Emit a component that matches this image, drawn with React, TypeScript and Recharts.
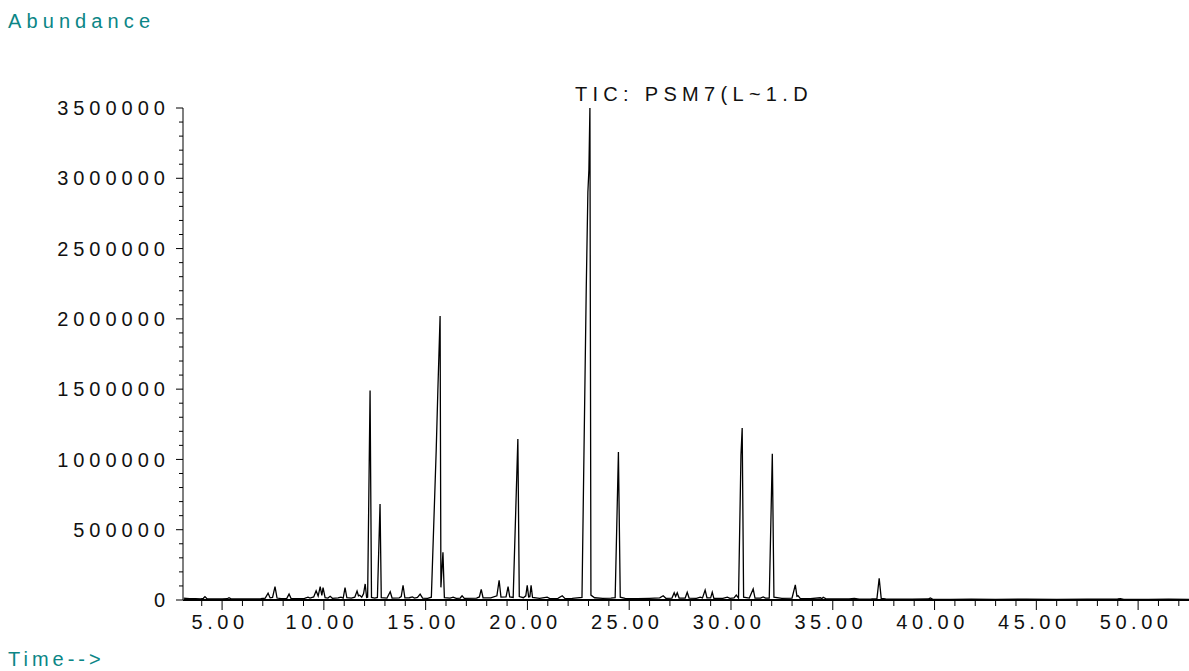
import { LineChart, Line, XAxis, YAxis } from 'recharts';

// retention time (min) and abundance
const RT = [
  3.10, 3.40, 3.70, 3.95, 4.08, 4.16, 4.26, 4.60, 5.00, 5.25, 5.34, 5.44, 5.90, 6.40, 6.90,
  7.12, 7.26, 7.36, 7.48, 7.60, 7.70, 7.90, 8.18, 8.29, 8.39, 8.70, 9.05, 9.22, 9.32, 9.50,
  9.62, 9.72, 9.82, 9.90, 9.96, 10.06, 10.20, 10.31, 10.42, 10.70, 10.84, 10.95, 11.04, 11.13,
  11.35, 11.52, 11.63, 11.70, 11.76, 11.86, 11.95, 12.03, 12.10, 12.15, 12.27, 12.34, 12.50,
  12.63, 12.76, 12.82, 13.10, 13.26, 13.35, 13.70, 13.80, 13.89, 13.98, 14.20, 14.35, 14.45,
  14.60, 14.73, 14.85, 15.10, 15.28, 15.52, 15.60, 15.71, 15.75, 15.85, 15.92, 16.20, 16.35,
  16.50, 16.70, 16.79, 16.90, 17.50, 17.64, 17.73, 17.82, 18.20, 18.50, 18.61, 18.70, 18.95,
  19.05, 19.13, 19.30, 19.53, 19.60, 19.80, 19.92, 19.99, 20.06, 20.12, 20.18, 20.25, 20.60,
  20.97, 21.10, 21.50, 21.71, 21.85, 22.20, 22.68, 22.89, 22.97, 23.02, 23.07, 23.12, 23.30,
  23.70, 24.10, 24.31, 24.47, 24.56, 24.80, 25.40, 26.00, 26.50, 26.67, 26.80, 27.10, 27.21,
  27.28, 27.36, 27.45, 27.75, 27.85, 27.94, 28.30, 28.49, 28.60, 28.73, 28.82, 29.00, 29.08,
  29.16, 29.60, 29.82, 29.95, 30.15, 30.26, 30.37, 30.49, 30.55, 30.62, 30.90, 31.09, 31.18,
  31.45, 31.58, 31.70, 31.88, 32.03, 32.11, 32.50, 33.00, 33.16, 33.24, 33.30, 33.40, 33.90,
  34.39, 34.46, 34.53, 34.65, 35.20, 35.80, 36.06, 36.30, 36.90, 37.17, 37.28, 37.38, 37.60,
  38.20, 38.90, 39.70, 39.79, 39.90, 40.80, 41.80, 43.00, 44.50, 46.00, 47.50, 49.00, 49.13,
  49.30, 50.50, 51.50, 52.50,
];

const ABUNDANCE = [
  14000, 9000, 10000, 8000, 12000, 24000, 9000, 8000, 7000, 9000, 16000, 8000, 7000, 8000, 9000,
  14000, 48000, 15000, 18000, 95000, 14000, 10000, 12000, 42000, 10000, 9000, 12000, 20000, 14000, 22000,
  66000, 28000, 95000, 32000, 88000, 16000, 14000, 26000, 12000, 15000, 20000, 13000, 88000, 16000,
  13000, 20000, 64000, 30000, 34000, 20000, 45000, 114000, 18000, 20000, 1490000, 18000, 14000,
  18000, 683000, 16000, 14000, 59000, 14000, 15000, 24000, 105000, 15000, 16000, 22000, 14000,
  18000, 42000, 14000, 12000, 20000, 1070000, 1490000, 2020000, 90000, 340000, 16000, 14000, 20000,
  12000, 14000, 30000, 12000, 14000, 22000, 75000, 16000, 15000, 30000, 140000, 20000, 22000,
  95000, 22000, 18000, 1145000, 24000, 16000, 30000, 105000, 22000, 24000, 105000, 18000, 12000,
  20000, 10000, 12000, 30000, 10000, 12000, 18000, 2220000, 2900000, 3060000, 3500000, 35000, 16000,
  12000, 14000, 16000, 1053000, 20000, 12000, 10000, 12000, 15000, 30000, 12000, 14000, 52000,
  25000, 52000, 14000, 14000, 55000, 14000, 12000, 20000, 15000, 70000, 16000, 15000, 55000,
  12000, 12000, 20000, 12000, 15000, 35000, 14000, 1030000, 1224000, 20000, 14000, 78000, 14000,
  14000, 22000, 14000, 14000, 1040000, 20000, 12000, 14000, 107000, 26000, 30000, 12000, 10000,
  16000, 10000, 20000, 10000, 8000, 7000, 11000, 6000, 7000, 10000, 155000, 12000, 8000,
  6000, 6000, 7000, 14000, 6000, 5000, 6000, 5000, 6000, 5000, 6000, 7000, 10000,
  5000, 5000, 6000, 5000,
];

const Y_TICKS = [
  0, 100000, 200000, 300000, 400000, 500000, 600000, 700000, 800000, 900000,
  1000000, 1100000, 1200000, 1300000, 1400000, 1500000, 1600000, 1700000, 1800000, 1900000,
  2000000, 2100000, 2200000, 2300000, 2400000, 2500000, 2600000, 2700000, 2800000, 2900000,
  3000000, 3100000, 3200000, 3300000, 3400000, 3500000,
];
const Y_LABELS = [0, 500000, 1000000, 1500000, 2000000, 2500000, 3000000, 3500000];

const X_TICKS = [
  4, 5, 6, 7, 8, 9, 10, 11, 12, 13, 14, 15, 16, 17, 18, 19, 20, 21, 22, 23, 24, 25, 26, 27, 28,
  29, 30, 31, 32, 33, 34, 35, 36, 37, 38, 39, 40, 41, 42, 43, 44, 45, 46, 47, 48, 49, 50, 51, 52,
];
const X_LABELS = [5, 10, 15, 20, 25, 30, 35, 40, 45, 50];

const TEAL = '#0b8686';
const FONT = '"Liberation Sans", Arial, Helvetica, sans-serif';

const chartData = RT.map((rt, i) => ({ rt, abundance: ABUNDANCE[i] }));

function YTick({ x, y, payload }: any) {
  const major = Y_LABELS.includes(payload.value);
  return (
    <g>
      <line x1={x - (major ? 7 : 4)} x2={x} y1={y} y2={y} stroke="#000" strokeWidth={1} />
      {major && (
        <text
          x={x - 13}
          y={y}
          dy="0.36em"
          textAnchor="end"
          fill="#111"
          fontSize={20}
          fontFamily={FONT}
          style={{ letterSpacing: 5 }}
        >
          {payload.value}
        </text>
      )}
    </g>
  );
}

function XTick({ x, y, payload }: any) {
  const major = X_LABELS.includes(payload.value);
  return (
    <g>
      <line x1={x} x2={x} y1={y} y2={y + (major ? 10 : 6)} stroke="#000" strokeWidth={1} />
      {major && (
        <text
          x={x - 2}
          y={y + 29}
          textAnchor="middle"
          fill="#111"
          fontSize={20}
          fontFamily={FONT}
          style={{ letterSpacing: 4.5 }}
        >
          {payload.value.toFixed(2)}
        </text>
      )}
    </g>
  );
}

export default function App() {
  const textStyle = {
    position: 'absolute' as const,
    fontFamily: FONT,
    fontSize: 20,
    lineHeight: '20px',
    whiteSpace: 'nowrap' as const,
  };
  return (
    <div style={{ position: 'absolute', left: 0, top: 0, width: 1189, height: 671, background: '#fff' }}>
      <LineChart
        width={1189}
        height={671}
        data={chartData}
        margin={{ top: 108, right: 0, bottom: 0, left: 0 }}
      >
        <XAxis
          dataKey="rt"
          type="number"
          domain={[3.08, 52.5]}
          allowDataOverflow
          ticks={X_TICKS}
          interval={0}
          height={71}
          tickSize={0}
          tickMargin={0}
          tickLine={false}
          axisLine={{ stroke: '#000', strokeWidth: 2 }}
          tick={<XTick />}
        />
        <YAxis
          type="number"
          domain={[0, 3500000]}
          ticks={Y_TICKS}
          interval={0}
          width={183}
          tickSize={0}
          tickMargin={0}
          tickLine={false}
          axisLine={{ stroke: '#555', strokeWidth: 1.5 }}
          tick={<YTick />}
        />
        <Line
          type="linear"
          dataKey="abundance"
          stroke="#000"
          strokeWidth={1.3}
          dot={false}
          isAnimationActive={false}
        />
      </LineChart>
      <div style={{ ...textStyle, left: 8, top: 11, color: TEAL, letterSpacing: 5.1 }}>Abundance</div>
      <div style={{ ...textStyle, left: 575, top: 84, color: '#111', letterSpacing: 5.3 }}>TIC: PSM7(L~1.D</div>
      <div style={{ ...textStyle, left: 8, top: 649, color: TEAL, letterSpacing: 4 }}>Time--&gt;</div>
    </div>
  );
}
